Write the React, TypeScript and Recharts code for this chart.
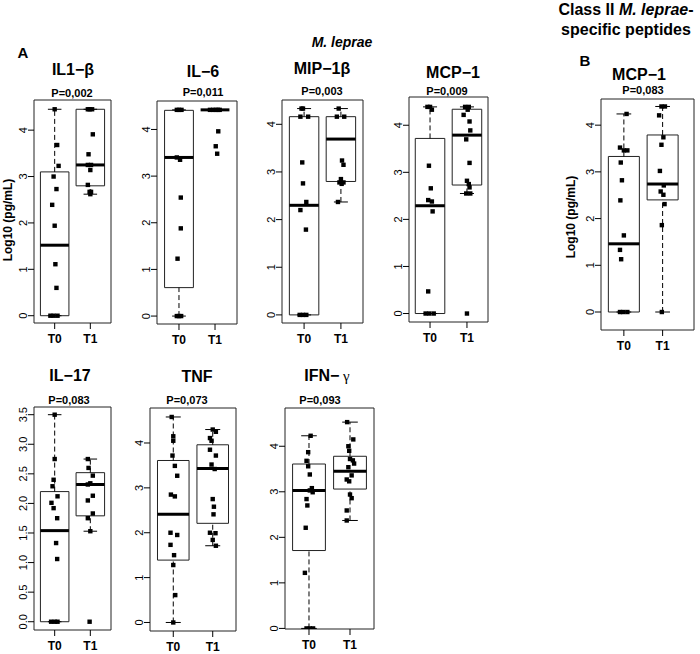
import React from 'react';
import { ScatterChart, Scatter, XAxis, YAxis, ReferenceArea, ReferenceLine } from 'recharts';

const FONT = '"Liberation Sans", Arial, sans-serif';
const groups = ['T0', 'T1'];
const intTicks = [0, 1, 2, 3, 4];
const il17Ticks = [0, 0.5, 1, 1.5, 2, 2.5, 3, 3.5];

// box stats per group: [lower whisker, Q1, median, Q3, upper whisker]
// points per group: [horizontal jitter, log10 value]
const il1Box = [[0, 0, 1.52, 3.1, 4.45], [2.62, 2.8, 3.25, 4.45, 4.45]];
const il1T0 = [[0, 4.45], [0.07, 3.68], [0.11, 3.23], [-0.03, 3.0], [0.05, 2.73], [-0.07, 2.39], [0, 1.94], [0.02, 1.11], [0.05, 0.6], [-0.12, 0], [-0.03, 0], [0.08, 0]];
const il1T1 = [[-0.07, 4.45], [-0.02, 4.45], [0.05, 4.45], [0.07, 3.91], [-0.05, 3.48], [-0.07, 3.25], [0.02, 3.25], [0, 3.14], [-0.07, 2.82], [-0.02, 2.67], [0.02, 2.67], [0, 2.62]];

const il6Box = [[0, 0.61, 3.4, 4.41, 4.42], [4.42, 4.42, 4.42, 4.42, 4.42]];
const il6T0 = [[-0.06, 4.42], [0, 4.42], [0.07, 4.42], [-0.06, 3.4], [0.03, 3.35], [0.05, 2.54], [0.05, 1.88], [-0.04, 1.23], [-0.06, 0], [0, 0], [0.06, 0]];
const il6T1 = [[-0.14, 4.42], [-0.05, 4.42], [0.02, 4.42], [0.08, 4.42], [0.13, 4.42], [0.09, 3.96], [0.02, 3.64], [0.06, 3.48]];

const mipBox = [[0, 0, 2.3, 4.16, 4.33], [2.37, 2.8, 3.69, 4.16, 4.33]];
const mipT0 = [[-0.07, 4.33], [-0.03, 4.33], [-0.1, 4.16], [0.11, 4.16], [-0.05, 3.2], [-0.03, 2.76], [0.06, 2.37], [-0.1, 2.2], [0.05, 1.79], [-0.12, 0], [-0.03, 0], [0.06, 0]];
const mipT1 = [[-0.06, 4.33], [-0.11, 4.16], [0.09, 4.16], [0.03, 3.24], [0.07, 3.15], [0, 2.85], [-0.04, 2.78], [0.07, 2.78], [0.02, 2.75], [-0.08, 2.37]];

const mcpBox = [[0, 0, 2.29, 3.72, 4.39], [2.55, 2.73, 3.79, 4.34, 4.39]];
const mcpT0 = [[-0.07, 4.39], [0, 4.39], [0.05, 4.33], [-0.03, 3.14], [0.02, 2.66], [-0.05, 2.41], [0.05, 2.38], [0.07, 2.17], [-0.05, 0.47], [-0.12, 0], [-0.02, 0], [0.1, 0]];
const mcpT1 = [[-0.05, 4.39], [0.05, 4.39], [0.02, 4.33], [-0.09, 4.22], [0.07, 4.08], [0.09, 3.89], [-0.02, 3.7], [0.07, 3.2], [0, 2.82], [0.05, 2.75], [0.07, 2.68], [-0.02, 2.55], [0.09, 2.55], [0, 0]];

const pepBox = [[0, 0, 1.46, 3.33, 4.24], [0, 2.4, 2.74, 3.79, 4.4]];
const pepT0 = [[0.07, 4.24], [-0.1, 3.52], [0, 3.46], [0.09, 3.46], [-0.08, 3.2], [-0.05, 2.82], [-0.09, 2.39], [0, 1.64], [-0.1, 1.33], [-0.07, 1.13], [-0.1, 0], [-0.02, 0], [0.09, 0]];
const pepT1 = [[-0.03, 4.4], [0.06, 4.4], [-0.09, 4.21], [0.02, 3.74], [-0.03, 3.58], [-0.07, 3.02], [0.03, 2.71], [-0.05, 2.58], [0.02, 2.51], [0.05, 2.31], [-0.02, 1.86], [-0.02, 0]];

const il17Box = [[0, 0, 1.54, 2.2, 3.5], [1.53, 1.79, 2.32, 2.52, 2.75]];
const il17T0 = [[0, 3.5], [0, 2.75], [-0.03, 2.4], [-0.06, 2.29], [0.08, 2.12], [-0.09, 2.01], [-0.03, 1.92], [0.07, 1.75], [0.04, 1.33], [0.07, 1.06], [-0.1, 0], [0, 0], [0.08, 0]];
const il17T1 = [[-0.07, 2.75], [-0.05, 2.6], [0.07, 2.47], [0, 2.34], [-0.07, 2.32], [0.07, 2.13], [-0.07, 2.05], [0.07, 1.83], [-0.07, 1.75], [0, 1.53], [-0.02, 0]];

const tnfBox = [[0, 1.39, 2.41, 3.61, 4.58], [1.71, 2.21, 3.43, 3.96, 4.3]];
const tnfT0 = [[-0.04, 4.58], [0, 4.15], [0, 4.05], [-0.02, 3.72], [0.04, 3.49], [0.1, 3.27], [-0.06, 2.85], [0.04, 2.81], [-0.07, 2.0], [0.1, 1.95], [-0.07, 1.73], [0.02, 1.5], [0, 1.28], [0.05, 0.61], [0, 0]];
const tnfT1 = [[0, 4.3], [0.08, 4.25], [-0.07, 4.11], [-0.03, 4.05], [-0.07, 3.85], [0.08, 3.72], [-0.03, 3.52], [0.05, 3.42], [0, 2.75], [0.03, 2.58], [0.02, 2.41], [-0.07, 2.0], [0.07, 1.99], [0, 1.84], [0.08, 1.71]];

const ifnBox = [[0, 1.71, 3.03, 3.61, 4.23], [2.37, 3.06, 3.45, 3.78, 4.53]];
const ifnT0 = [[0.04, 4.23], [-0.02, 3.87], [-0.06, 3.68], [-0.02, 3.56], [0.02, 3.38], [0.07, 3.08], [0.02, 3.03], [0.09, 2.99], [-0.06, 2.84], [-0.04, 2.7], [-0.08, 2.21], [-0.1, 1.22], [-0.06, 0], [0.02, 0], [0.1, 0]];
const ifnT1 = [[-0.07, 4.53], [0.08, 4.15], [-0.04, 4.0], [-0.02, 3.9], [0, 3.72], [0.07, 3.69], [0.1, 3.62], [-0.04, 3.54], [0.04, 3.36], [-0.08, 3.27], [-0.02, 3.23], [0, 2.94], [0.04, 2.86], [-0.08, 2.59], [-0.08, 2.37]];

// layout: frame = plot box [left, top, right, bottom] in page px
const panels = [
  { key: 'il1', title: 'IL1−β', p: 'P=0,002', box: il1Box, pts: [il1T0, il1T1], frame: [34, 100, 111, 323], xd: [0.42, 2.58], yd: [-0.157, 4.65], ticks: intTicks, t: [73, 70], pp: [72, 93] },
  { key: 'il6', title: 'IL−6', p: 'P=0,011', box: il6Box, pts: [il6T0, il6T1], frame: [157, 101, 237, 324], xd: [0.39, 2.61], yd: [-0.17, 4.61], ticks: intTicks, t: [203, 72], pp: [203, 92] },
  { key: 'mip', title: 'MIP−1β', p: 'P=0,003', box: mipBox, pts: [mipT0, mipT1], frame: [282, 100, 363, 323], xd: [0.4, 2.6], yd: [-0.17, 4.51], ticks: intTicks, t: [322, 69], pp: [322, 91] },
  { key: 'mcp', title: 'MCP−1', p: 'P=0,009', box: mcpBox, pts: [mcpT0, mcpT1], frame: [409, 97, 488, 322], xd: [0.43, 2.57], yd: [-0.18, 4.6], ticks: intTicks, t: [453, 73], pp: [447, 91] },
  { key: 'pep', title: 'MCP−1', p: 'P=0,083', box: pepBox, pts: [pepT0, pepT1], frame: [601, 99, 694, 330], xd: [0.41, 2.81], yd: [-0.385, 4.56], ticks: intTicks, t: [639, 75], pp: [643, 90] },
  { key: 'il17', title: 'IL−17', p: 'P=0,083', box: il17Box, pts: [il17T0, il17T1], frame: [34, 407, 111, 630], xd: [0.42, 2.58], yd: [-0.14, 3.63], ticks: il17Ticks, dec: true, t: [70, 376], pp: [69, 400] },
  { key: 'tnf', title: 'TNF', p: 'P=0,073', box: tnfBox, pts: [tnfT0, tnfT1], frame: [150, 408, 236, 631], xd: [0.41, 2.59], yd: [-0.19, 4.78], ticks: intTicks, t: [197, 377], pp: [187, 400] },
  { key: 'ifn', title: 'IFN−', gamma: true, p: 'P=0,093', box: ifnBox, pts: [ifnT0, ifnT1], frame: [285, 408, 374, 629], xd: [0.415, 2.585], yd: [-0.013, 4.84], ticks: intTicks, t: [327, 376], pp: [320, 400] },
];

const Label = ({ x, y, size, bold = true, italic = false, rotate = 0, children }: any) => (
  <div
    style={{
      position: 'absolute', left: x, top: y,
      transform: `translate(-50%, -50%) rotate(${rotate}deg)`,
      fontSize: size, fontWeight: bold ? 'bold' : 'normal', fontStyle: italic ? 'italic' : 'normal',
      fontFamily: FONT, whiteSpace: 'nowrap', lineHeight: 1, color: '#000',
    }}
  >
    {children}
  </div>
);

const Square = (p: any) => <rect x={p.cx - 2.2} y={p.cy - 2.2} width={4.4} height={4.4} fill="#000" />;

const XTick = (p: any) => (
  <text x={p.x} y={p.y + 12} textAnchor="middle" fontSize={12} fontWeight="bold" fontFamily={FONT} fill="#000">
    {groups[p.payload.value - 1]}
  </text>
);

const YTick = (p: any) => {
  const label = p.dec ? p.payload.value.toFixed(1) : String(p.payload.value);
  return (
    <text x={p.x} y={p.y} transform={`rotate(-90 ${p.x} ${p.y})`} textAnchor="middle" fontSize={11} fontFamily={FONT} fill="#000">
      {label}
    </text>
  );
};

function BoxPanel({ cfg }: any) {
  const [x0, y0, x1, y1] = cfg.frame;
  const YW = 30;
  const XH = 28;
  const w = x1 - x0 + YW + 2;
  const h = y1 - y0 + XH + 4;
  const data = cfg.pts.flatMap((g: number[][], gi: number) => g.map(([j, v]) => ({ x: gi + 1 + j, y: v })));
  const half = 0.4;
  const cap = 0.19;
  return (
    <div style={{ position: 'absolute', left: x0 - YW, top: y0 - 2 }}>
      <ScatterChart width={w} height={h} margin={{ top: 2, right: 2, bottom: 2, left: 0 }}>
        <XAxis
          type="number" dataKey="x" domain={cfg.xd} allowDataOverflow ticks={[1, 2]} interval={0}
          height={XH} axisLine={false} tickLine={{ stroke: '#000' }} tickSize={6} tick={XTick}
        />
        <YAxis
          type="number" dataKey="y" domain={cfg.yd} allowDataOverflow ticks={cfg.ticks} interval={0}
          width={YW} axisLine={false} tickLine={{ stroke: '#000' }} tickSize={6} tickMargin={1}
          tick={(p: any) => <YTick {...p} dec={cfg.dec} />}
        />
        <ReferenceArea x1={cfg.xd[0]} x2={cfg.xd[1]} y1={cfg.yd[0]} y2={cfg.yd[1]} fill="none" stroke="#222" strokeWidth={1} ifOverflow="visible" />
        {cfg.box.map(([lo, q1, med, q3, hi]: number[], gi: number) => {
          const c = gi + 1;
          return (
            <React.Fragment key={gi}>
              <ReferenceLine segment={[{ x: c, y: lo }, { x: c, y: q1 }]} stroke="#000" strokeDasharray="5 3" ifOverflow="visible" />
              <ReferenceLine segment={[{ x: c, y: q3 }, { x: c, y: hi }]} stroke="#000" strokeDasharray="5 3" ifOverflow="visible" />
              <ReferenceLine segment={[{ x: c - cap, y: lo }, { x: c + cap, y: lo }]} stroke="#000" ifOverflow="visible" />
              <ReferenceLine segment={[{ x: c - cap, y: hi }, { x: c + cap, y: hi }]} stroke="#000" ifOverflow="visible" />
              <ReferenceArea x1={c - half} x2={c + half} y1={q1} y2={q3} fill="none" stroke="#222" strokeWidth={1} ifOverflow="visible" />
              <ReferenceLine segment={[{ x: c - half, y: med }, { x: c + half, y: med }]} stroke="#000" strokeWidth={3} ifOverflow="visible" />
            </React.Fragment>
          );
        })}
        <Scatter data={data} shape={Square} isAnimationActive={false} />
      </ScatterChart>
    </div>
  );
}

export default function App() {
  return (
    <div style={{ position: 'absolute', left: 0, top: 0, width: 700, height: 654, background: '#fff', overflow: 'hidden' }}>
      <Label x={342} y={42} size={14} italic>M. leprae</Label>
      <Label x={626} y={10} size={16}>Class II <i>M. leprae</i>-</Label>
      <Label x={626} y={30} size={16}>specific peptides</Label>
      <Label x={23} y={52} size={15}>A</Label>
      <Label x={585} y={60} size={15}>B</Label>
      <Label x={8} y={220} size={12} rotate={-90}>Log10 (pg/mL)</Label>
      <Label x={571} y={217} size={12} rotate={-90}>Log10 (pg/mL)</Label>
      {panels.map((cfg) => (
        <React.Fragment key={cfg.key}>
          <Label x={cfg.t[0]} y={cfg.t[1]} size={16}>
            {cfg.title}
            {cfg.gamma ? <span style={{ fontWeight: 'normal', fontFamily: '"Liberation Serif", serif', fontSize: 15 }}> γ</span> : null}
          </Label>
          <Label x={cfg.pp[0]} y={cfg.pp[1]} size={11}>{cfg.p}</Label>
          <BoxPanel cfg={cfg} />
        </React.Fragment>
      ))}
    </div>
  );
}
